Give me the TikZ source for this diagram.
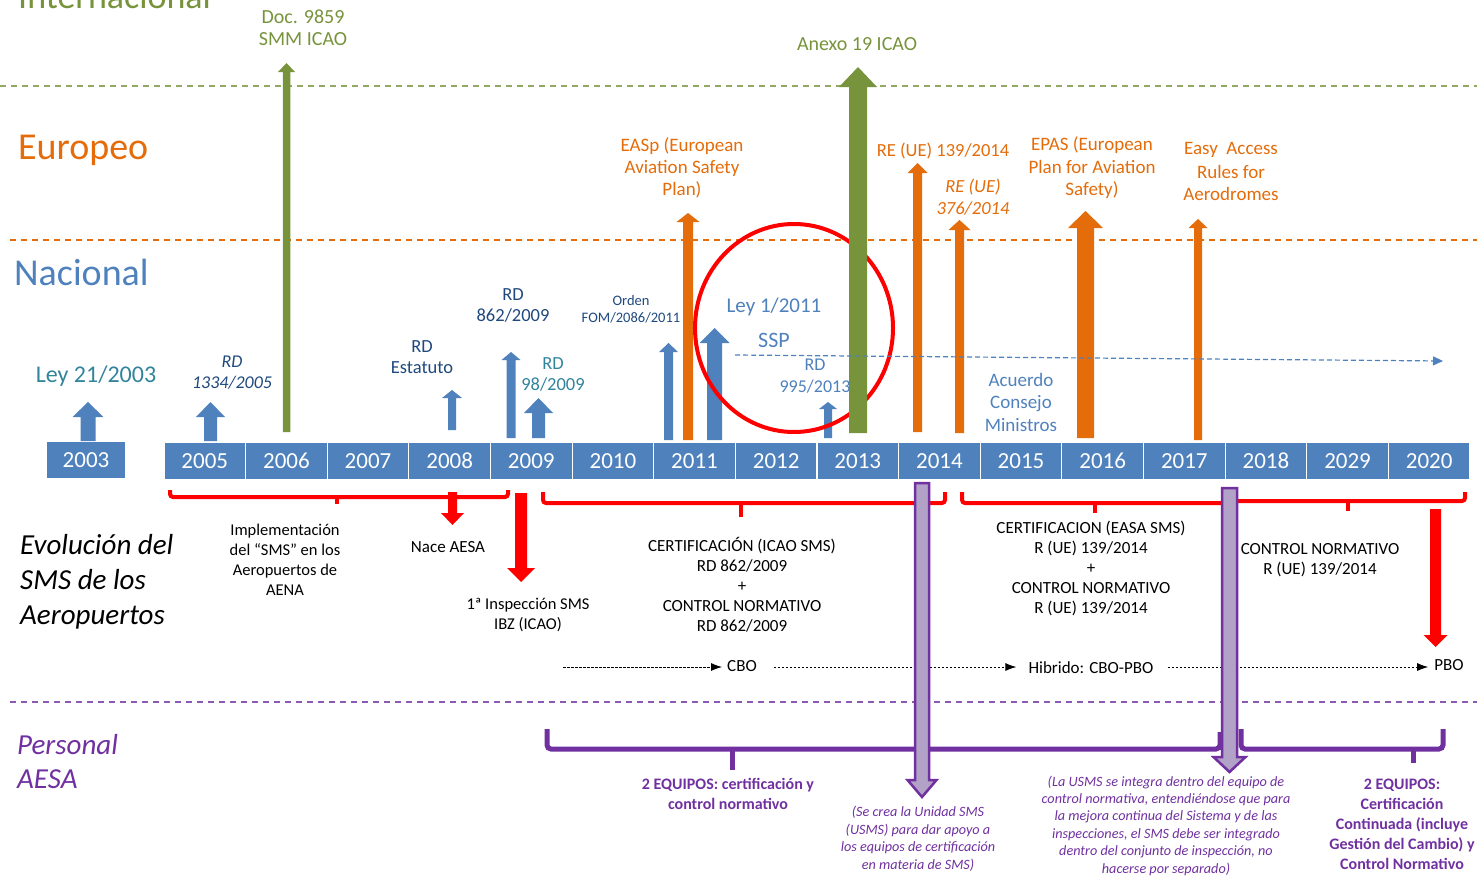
\documentclass[tikz,border=0pt]{standalone}
\usepackage{fontspec}
\setmainfont{Carlito}
\usetikzlibrary{arrows.meta}
\definecolor{cblue}{HTML}{4F81BD}
\definecolor{cdblue}{HTML}{1F497D}
\definecolor{cteal}{HTML}{31849B}
\definecolor{cgreen}{HTML}{77933C}
\definecolor{corange}{HTML}{E46C0A}
\definecolor{cred}{HTML}{FF0000}
\definecolor{cpurple}{HTML}{7030A0}
\definecolor{clav}{HTML}{B3A2C7}
\newcommand{\fsz}[2]{\fontsize{#1}{#2}\selectfont}
% #1 style, #2 x, #3 tail y, #4 tip y, #5 shaft half width, #6 head half width, #7 head base y
\newcommand{\blockarr}[7]{\path[#1] (#2-#5,#3) -- (#2-#5,#7) -- (#2-#6,#7) -- (#2,#4) -- (#2+#6,#7) -- (#2+#5,#7) -- (#2+#5,#3) -- cycle;}
\tikzset{
  lbl/.style={inner sep=0pt, align=center},
  yearbox/.style={draw=white, line width=1.2pt, fill=cblue, text=white, minimum width=81.6pt, minimum height=38pt, inner sep=0pt, font=\fsz{23}{26}},
  sepline/.style={line width=1.5pt, dash pattern=on 6pt off 5pt},
  redbrace/.style={draw=cred, line width=4pt, rounded corners=3pt},
  purbrace/.style={draw=cpurple, line width=5pt, rounded corners=4pt},
  blackdash/.style={line width=0.8pt, dash pattern=on 2.5pt off 1.5pt, -{Latex[length=11pt,width=8pt]}},
  purarrow/.style={fill=clav, draw=cpurple, line width=2.5pt, line join=miter},
}
\begin{document}
\begin{tikzpicture}[x=1pt,y=-1pt]
\useasboundingbox (0,0) rectangle (1477,875);
\clip (0,0) rectangle (1477,875);

% section separators and titles
\draw[sepline, cgreen!80] (0,86) -- (1477,86);
\draw[sepline, corange] (10,240) -- (1477,240);
\draw[sepline, cpurple!80] (10,702) -- (1477,702);
\node[lbl, anchor=base west, text=cgreen, font=\fsz{36}{40}] (tint) at (18,9) {Internacional};
\node[lbl, anchor=west, text=corange, font=\fsz{38}{42}] (teur) at (18,150) {Europeo};
\node[lbl, anchor=west, text=cblue, font=\fsz{38}{42}] (tnac) at (14,272) {Nacional};

% year boxes
\node[yearbox, minimum width=80pt] (y2003) at (86,460) {2003};
\foreach \yr [count=\i from 0] in {2005,2006,2007,2008,2009,2010,2011,2012,2013,2014,2015,2016,2017,2018,2029,2020}
  \node[yearbox] (y\yr) at ({204.8+81.625*\i},461) {\yr};

% upward arrows
\blockarr{fill=cblue}{88}{441}{402}{7.5}{15.5}{417}
\blockarr{fill=cblue}{210.5}{441}{402}{6.5}{14.5}{417}
\blockarr{fill=cgreen}{286.5}{432}{63}{3.75}{8.5}{72}
\blockarr{fill=cblue}{452}{430}{390}{4}{10}{398}
\blockarr{fill=cblue}{511}{438}{352}{4.5}{9.5}{360}
\blockarr{fill=cblue}{538.5}{438}{398}{6.5}{14.5}{413}
\blockarr{fill=cblue}{668.5}{440}{343}{4.5}{9.5}{352}
\blockarr{fill=corange}{688}{440}{213}{5}{11.5}{222}
\blockarr{fill=cblue}{714.5}{440}{328}{7.5}{15}{343}
\blockarr{fill=cblue}{828}{438}{402}{4}{9}{409}
\draw[cred, line width=4pt] (794,328) ellipse [x radius=99, y radius=104];
\blockarr{fill=cgreen}{858}{433}{67}{9}{19}{87}
\blockarr{fill=corange}{917.5}{432}{163}{4.5}{10}{173}
\blockarr{fill=corange}{959.5}{433}{220}{4.5}{11}{230}
\blockarr{fill=corange}{1085.5}{438}{211}{8.5}{17.5}{228}
\blockarr{fill=corange}{1198}{440}{219}{4}{9.5}{228}

% labels of the upward arrows
\node[lbl, text=cgreen, font=\fsz{20}{22}] (ldoc) at (303,28) {Doc. 9859\\SMM ICAO};
\node[lbl, text=cgreen, font=\fsz{20}{22}] (lanexo) at (857,44) {Anexo 19 ICAO};
\node[lbl, text=corange, font=\fsz{19}{22}] (leasp) at (682,168) {EASp (European\\Aviation Safety\\Plan)};
\node[lbl, text=corange, font=\fsz{18.5}{22}] (lre139) at (943,151) {RE (UE) 139/2014};
\node[lbl, text=corange, font=\fsz{18.5}{22}\itshape] (lre376) at (973,197) {RE (UE)\\376/2014};
\node[lbl, text=corange, font=\fsz{19}{22.5}] (lepas) at (1092,168) {EPAS (European\\Plan for Aviation\\Safety)};
\node[lbl, text=corange, font=\fsz{19}{24}] (leasy) at (1231,171) {Easy\ \ Access\\Rules for\\[-2pt]Aerodromes};
\node[lbl, text=cteal, font=\fsz{24}{26}] (lley21) at (96,376) {Ley 21/2003};
\node[lbl, text=cdblue, font=\fsz{18}{21}\itshape] (lrd1334) at (232,373) {RD\\1334/2005};
\node[lbl, text=cdblue, font=\fsz{18.5}{21}] (lrdest) at (422,357) {RD\\Estatuto};
\node[lbl, text=cdblue, font=\fsz{18.5}{21}] (lrd862) at (513,305) {RD\\862/2009};
\node[lbl, text=cteal, font=\fsz{18.5}{21}] (lrd98) at (553,374) {RD\\98/2009};
\node[lbl, text=cdblue, font=\fsz{14.5}{17}] (lorden) at (631,309.5) {Orden\\FOM/2086/2011};
\node[lbl, text=cblue, font=\fsz{21}{24}] (lley1) at (774,307) {Ley 1/2011};
\node[lbl, text=cblue, font=\fsz{22}{24}] (lssp) at (774,340) {SSP};
\node[lbl, text=cblue, font=\fsz{18}{22}] (lrd995) at (815,376) {RD\\995/2013};
\node[lbl, text=cblue, font=\fsz{19}{22.5}] (lacu) at (1021,402) {Acuerdo\\Consejo\\Ministros};

% SSP dashed arrow
\coordinate (sspa) at (735,355);
\coordinate (sspb) at (1443,361);
\draw[cblue, line width=1.2pt, dash pattern=on 5pt off 3pt, -{Triangle[length=10pt,width=9pt]}] (sspa) -- (sspb);

% red braces and arrows
\path[redbrace] (170,490) -- (170,497) -- (508,497) -- (508,490);
\path[redbrace] (337,497) -- (337,504);
\path[redbrace] (543,492) -- (543,503) -- (945,503) -- (945,492);
\path[redbrace] (741,503) -- (741,517);
\path[redbrace] (962,492) -- (962,503) -- (1226,503) -- (1226,494);
\path[redbrace] (1095,503) -- (1095,513);
\path[redbrace] (1234,494) -- (1234,501) -- (1465,501) -- (1465,492);
\path[redbrace] (1348,501) -- (1348,511);
\blockarr{fill=cred}{452.5}{492}{525}{4.5}{11.5}{513}
\blockarr{fill=cred}{521}{493}{582}{6}{14}{568}
\blockarr{fill=cred}{1435.5}{509}{647}{5.5}{12}{635}

% SMS texts
\node[lbl, anchor=west, align=left, font=\fsz{29}{35}\itshape] (tevo) at (20,582) {Evolución del\\SMS de los\\Aeropuertos};
\node[lbl, font=\fsz{16.5}{20}] (timpl) at (285,560) {Implementación\\del “SMS” en los\\Aeropuertos de\\AENA};
\node[lbl, font=\fsz{17}{20}] (tnace) at (448,547) {Nace AESA};
\node[lbl, font=\fsz{16.5}{20}] (tinsp) at (528,615) {1ª Inspección SMS\\IBZ (ICAO)};
\node[lbl, font=\fsz{17}{20}] (tcert1) at (742,585) {CERTIFICACIÓN (ICAO SMS)\\RD 862/2009\\+\\CONTROL NORMATIVO\\RD 862/2009};
\node[lbl, font=\fsz{17}{20.2}] (tcert2) at (1091,568.5) {CERTIFICACION (EASA SMS)\\R (UE) 139/2014\\+\\CONTROL NORMATIVO\\R (UE) 139/2014};
\node[lbl, font=\fsz{17}{20}] (tctrl) at (1320,560) {CONTROL NORMATIVO\\R (UE) 139/2014};

% CBO - PBO line
\node[lbl, font=\fsz{17}{20}] (cbo) at (742,666) {CBO};
\node[lbl, font=\fsz{17}{20}] (hib) at (1091,668) {Hibrido: CBO-PBO};
\node[lbl, font=\fsz{17}{20}] (pbo) at (1449,665) {PBO};
\coordinate (cstart) at (563,667);
\draw[blackdash] (cstart) -- ([xshift=-5pt]cbo.west |- cstart);
\draw[blackdash] ([xshift=17pt]cbo.east |- cstart) -- ([xshift=-12pt]hib.west |- cstart);
\draw[blackdash] ([xshift=14pt]hib.east |- cstart) -- ([xshift=-6pt]pbo.west |- cstart);

% Personal AESA
\node[lbl, anchor=west, align=left, text=cpurple, font=\fsz{29}{34}\itshape] (tpers) at (17,762) {Personal\\AESA};
\path[purbrace] (547,729) -- (547,749) -- (1220,749) -- (1220,732);
\path[purbrace] (732,749) -- (732,770);
\path[purbrace] (1241,729) -- (1241,749) -- (1443,749) -- (1443,729);
\path[purbrace] (1413,749) -- (1413,763);
\node[lbl, text=cpurple, font=\fsz{16}{20}\bfseries] (teq1) at (728,794) {2 EQUIPOS: certificación y\\control normativo};
\node[lbl, text=cpurple, font=\fsz{14.2}{17.5}\itshape] (tusms) at (918,839) {(Se crea la Unidad SMS\\(USMS) para dar apoyo a\\los equipos de certificación\\en materia de SMS)};
\node[lbl, text=cpurple, font=\fsz{14.2}{17.4}\itshape] (tinteg) at (1166,825.5) {(La USMS se integra dentro del equipo de\\control normativa, entendiéndose que para\\la mejora continua del Sistema y de las\\inspecciones, el SMS debe ser integrado\\dentro del conjunto de inspección, no\\hacerse por separado)};
\node[lbl, text=cpurple, font=\fsz{16}{20}\bfseries] (teq2) at (1402,824) {2 EQUIPOS:\\Certificación\\Continuada (incluye\\Gestión del Cambio) y\\Control Normativo};

% purple arrows
\blockarr{purarrow}{922}{483}{797}{7}{14.5}{780}
\blockarr{purarrow}{1229.5}{488}{772}{7.5}{16}{757}
\end{tikzpicture}
\end{document}
